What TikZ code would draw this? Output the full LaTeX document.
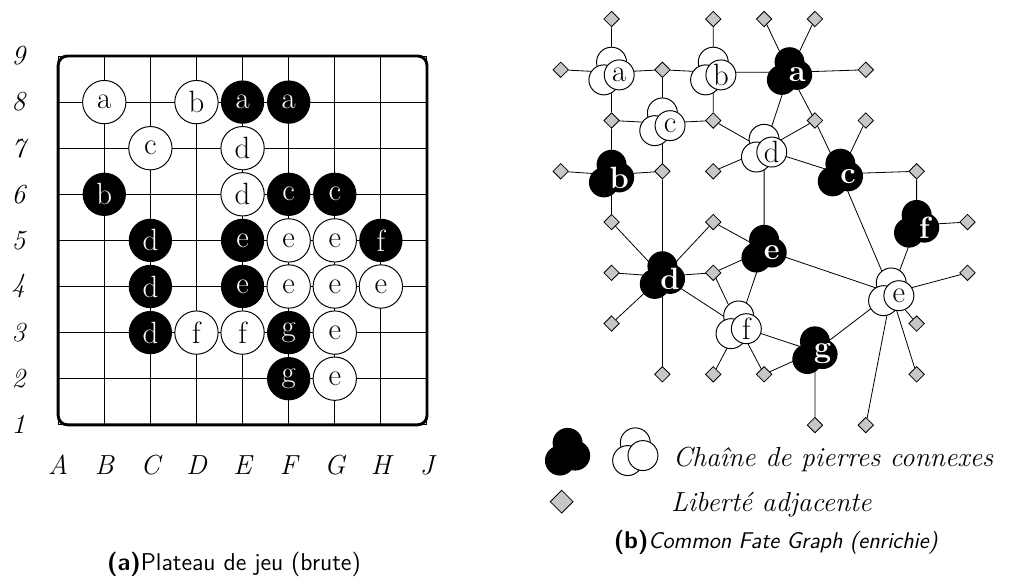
\documentclass[tikz,border=0pt]{standalone}
\usepackage{amsmath}
\usetikzlibrary{shapes.geometric,backgrounds}
\newcommand{\stonefont}{\fontsize{19}{21}\selectfont}
\newcommand{\axisfont}{\fontsize{17}{20}\selectfont\itshape}
\newcommand{\capfont}{\fontsize{15}{18}\selectfont\sffamily}
\tikzset{
  wstone/.style={circle,draw,fill=white,line width=0.6pt,minimum size=0.94cm,inner sep=0pt,font=\stonefont},
  bstone/.style={circle,fill=black,text=white,minimum size=0.94cm,inner sep=0pt,font=\stonefont},
  wlink/.style={circle,draw,fill=white,line width=0.6pt,minimum size=0.65cm,inner sep=0pt,font=\stonefont},
  blink/.style={circle,fill=black,text=white,minimum size=0.65cm,inner sep=0pt,font=\stonefont\bfseries},
  liberty/.style={diamond,draw,fill=black!22,line width=0.5pt,inner sep=0pt,minimum size=0.34cm},
  libline/.style={line width=0.5pt},
  axislab/.style={font=\axisfont,inner sep=0pt}
}
% a chain = three overlapping stones round a centre coordinate
\newcommand{\wchain}[2]{%
  \node[wlink] (#1u) at ([shift={(0cm,0.22cm)}]#1) {};
  \node[wlink] (#1l) at ([shift={(-0.166cm,-0.164cm)}]#1) {};
  \node[wlink] (#1m) at ([shift={(0.166cm,-0.056cm)}]#1) {#2};}
\newcommand{\bchain}[2]{%
  \node[blink] (#1u) at ([shift={(0cm,0.22cm)}]#1) {};
  \node[blink] (#1l) at ([shift={(-0.166cm,-0.164cm)}]#1) {};
  \node[blink] (#1m) at ([shift={(0.166cm,-0.056cm)}]#1) {#2};}

\begin{document}
\begin{tikzpicture}
  \useasboundingbox (0,0) rectangle (21.996,12.56);

  % ---------------- (a) the board ----------------
  \begin{scope}[shift={(1.262,3.345)}]
    % -- grid and frame --
    \draw[line width=0.6pt] (0,0) grid (8,8);
    \draw[line width=1.8pt,rounded corners=0.2cm] (0,0) rectangle (8,8);

    % -- row numbers --
    \node[axislab] (r1) at (-0.86,0) {1};
    \node[axislab] (r2) at (-0.86,1) {2};
    \node[axislab] (r3) at (-0.86,2) {3};
    \node[axislab] (r4) at (-0.86,3) {4};
    \node[axislab] (r5) at (-0.86,4) {5};
    \node[axislab] (r6) at (-0.86,5) {6};
    \node[axislab] (r7) at (-0.86,6) {7};
    \node[axislab] (r8) at (-0.86,7) {8};
    \node[axislab] (r9) at (-0.86,8) {9};

    % -- column letters --
    \node[axislab] (cA) at (0,-0.875) {A};
    \node[axislab] (cB) at (1,-0.875) {B};
    \node[axislab] (cC) at (2,-0.875) {C};
    \node[axislab] (cD) at (3,-0.875) {D};
    \node[axislab] (cE) at (4,-0.875) {E};
    \node[axislab] (cF) at (5,-0.875) {F};
    \node[axislab] (cG) at (6,-0.875) {G};
    \node[axislab] (cH) at (7,-0.875) {H};
    \node[axislab] (cJ) at (8,-0.875) {J};

    % -- white stones --
    \node[wstone] (B8) at (1,7) {a};
    \node[wstone] (D8) at (3,7) {b};
    \node[wstone] (C7) at (2,6) {c};
    \node[wstone] (E7) at (4,6) {d};
    \node[wstone] (E6) at (4,5) {d};
    \node[wstone] (F5) at (5,4) {e};
    \node[wstone] (G5) at (6,4) {e};
    \node[wstone] (F4) at (5,3) {e};
    \node[wstone] (G4) at (6,3) {e};
    \node[wstone] (H4) at (7,3) {e};
    \node[wstone] (G3) at (6,2) {e};
    \node[wstone] (G2) at (6,1) {e};
    \node[wstone] (D3) at (3,2) {f};
    \node[wstone] (E3) at (4,2) {f};

    % -- black stones --
    \node[bstone] (E8) at (4,7) {a};
    \node[bstone] (F8) at (5,7) {a};
    \node[bstone] (B6) at (1,5) {b};
    \node[bstone] (F6) at (5,5) {c};
    \node[bstone] (G6) at (6,5) {c};
    \node[bstone] (C5) at (2,4) {d};
    \node[bstone] (C4) at (2,3) {d};
    \node[bstone] (C3) at (2,2) {d};
    \node[bstone] (E5) at (4,4) {e};
    \node[bstone] (E4) at (4,3) {e};
    \node[bstone] (H5) at (7,4) {f};
    \node[bstone] (F3) at (5,2) {g};
    \node[bstone] (F2) at (5,1) {g};
  \end{scope}

  % ---------------- (b) the common fate graph ----------------
  \begin{scope}[shift={(12.163,12.147)},x=1.103cm,y=-1.101cm]
    % -- chain centres --
    \coordinate (wa) at (1,1.05);
    \coordinate (wb) at (3,1.05);
    \coordinate (wc) at (2,2.05);
    \coordinate (wd) at (4,2.57);
    \coordinate (we) at (6.5,5.4);
    \coordinate (wf) at (3.5,6.05);
    \coordinate (ba) at (4.5,1.05);
    \coordinate (bb) at (1,3.07);
    \coordinate (bc) at (5.5,3.05);
    \coordinate (bd) at (2,5.07);
    \coordinate (be) at (4,4.55);
    \coordinate (bf) at (7,4.06);
    \coordinate (bg) at (5,6.55);

    % -- liberties --
    \node[liberty] (l10) at (1,0) {};
    \node[liberty] (l30) at (3,0) {};
    \node[liberty] (l40) at (4,0) {};
    \node[liberty] (l50) at (5,0) {};
    \node[liberty] (l01) at (0,1) {};
    \node[liberty] (l21) at (2,1) {};
    \node[liberty] (l61) at (6,1) {};
    \node[liberty] (l12) at (1,2) {};
    \node[liberty] (l32) at (3,2) {};
    \node[liberty] (l52) at (5,2) {};
    \node[liberty] (l62) at (6,2) {};
    \node[liberty] (l03) at (0,3) {};
    \node[liberty] (l23) at (2,3) {};
    \node[liberty] (l33) at (3,3) {};
    \node[liberty] (l73) at (7,3) {};
    \node[liberty] (l14) at (1,4) {};
    \node[liberty] (l34) at (3,4) {};
    \node[liberty] (l84) at (8,4) {};
    \node[liberty] (l15) at (1,5) {};
    \node[liberty] (l35) at (3,5) {};
    \node[liberty] (l85) at (8,5) {};
    \node[liberty] (l16) at (1,6) {};
    \node[liberty] (l76) at (7,6) {};
    \node[liberty] (l27) at (2,7) {};
    \node[liberty] (l37) at (3,7) {};
    \node[liberty] (l47) at (4,7) {};
    \node[liberty] (l77) at (7,7) {};
    \node[liberty] (l58) at (5,8) {};
    \node[liberty] (l68) at (6,8) {};

    % -- chains --
    \wchain{wa}{a}
    \wchain{wb}{b}
    \wchain{wc}{c}
    \wchain{wd}{d}
    \wchain{we}{e}
    \wchain{wf}{f}
    \bchain{ba}{a}
    \bchain{bb}{b}
    \bchain{bc}{c}
    \bchain{bd}{d}
    \bchain{be}{e}
    \bchain{bf}{f}
    \bchain{bg}{g}

    % -- links, behind everything --
    \begin{scope}[on background layer]
      \draw[libline] (wa) -- (l10) (wa) -- (l01) (wa) -- (l21) (wa) -- (l12);
      \draw[libline] (wb) -- (l30) (wb) -- (l21) (wb) -- (l32) (wb) -- (ba);
      \draw[libline] (ba) -- (l40) (ba) -- (l50) (ba) -- (l61) (ba) -- (l52) (ba) -- (wd);
      \draw[libline] (wc) -- (l21) (wc) -- (l12) (wc) -- (l32) (wc) -- (l23);
      \draw[libline] (wd) -- (l32) (wd) -- (l52) (wd) -- (l33) (wd) -- (bc) (wd) -- (be);
      \draw[libline] (bb) -- (l12) (bb) -- (l03) (bb) -- (l23) (bb) -- (l14);
      \draw[libline] (bc) -- (l52) (bc) -- (l62) (bc) -- (l73) (bc) -- (we);
      \draw[libline] (bf) -- (l73) (bf) -- (l84) (bf) -- (we);
      \draw[libline] (we) -- (be) (we) -- (l85) (we) -- (l76) (we) -- (l77) (we) -- (l68) (we) -- (bg);
      \draw[libline] (bd) -- (l14) (bd) -- (l15) (bd) -- (l16) (bd) -- (l23) (bd) -- (l34) (bd) -- (l35) (bd) -- (l27) (bd) -- (wf);
      \draw[libline] (be) -- (l34) (be) -- (l35) (be) -- (wf);
      \draw[libline] (wf) -- (l35) (wf) -- (l37) (wf) -- (l47) (wf) -- (bg);
      \draw[libline] (bg) -- (l47) (bg) -- (l58);
    \end{scope}
  \end{scope}

  % -- key --
  \coordinate (kb) at (12.312,2.733);
  \bchain{kb}{}
  \coordinate (kw) at (13.781,2.733);
  \wchain{kw}{}
  \node[liberty,minimum size=0.5cm] (kl) at (12.184,1.677) {};
  \node[axislab,anchor=base west] (kchain) at (14.592,2.45) {Chaîne de pierres connexes};
  \node[axislab,anchor=base west] (klib) at (14.55,1.46) {Liberté adjacente};

  % -- captions --
  \node[font=\capfont,anchor=base,inner sep=0pt] (capa) at (5.076,0.174) {\textbf{(a)}Plateau de jeu (brute)};
  \node[font=\capfont,anchor=base,inner sep=0pt] (capb) at (16.83,0.66) {\textbf{(b)}\fontsize{14}{17}\selectfont\textit{Common Fate Graph (enrichie)}};
\end{tikzpicture}
\end{document}
